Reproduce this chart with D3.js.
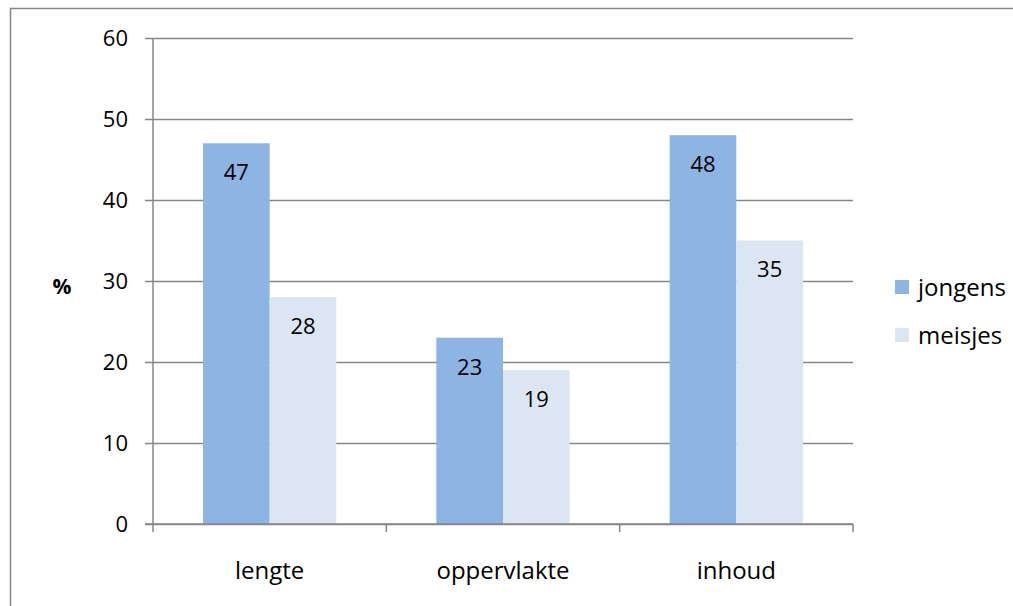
<!DOCTYPE html>
<html>
<head>
<meta charset="utf-8">
<script src="https://cdn.jsdelivr.net/npm/d3@7/dist/d3.min.js"></script>
<style>
  html, body { margin: 0; padding: 0; background: #fff; }
  svg { display: block; font-family: "Open Sans", Lato, sans-serif; }
</style>
</head>
<body>
<svg id="chart" width="1013" height="606"></svg>
<script>
// Percentages per measurement type, split by group
const categories = ["lengte", "oppervlakte", "inhoud"];
const seriesNames = ["jongens", "meisjes"];
const jongens = [47, 23, 48];
const meisjes = [28, 19, 35];
const yTicks = [0, 10, 20, 30, 40, 50, 60];

const colors = { jongens: "#8EB4E3", meisjes: "#DCE6F2" };
const gray = "#868686";
const fsNum = 22;
const fsWord = 24;

const svg = d3.select("#chart");

// Outer chart frame
svg.append("rect")
  .attr("x", 10.5).attr("y", 8.5)
  .attr("width", 1020).attr("height", 620)
  .attr("fill", "none").attr("stroke", gray).attr("stroke-width", 1.5);

const plot = { left: 153, right: 853, top: 38, bottom: 524 };

const x = d3.scaleBand().domain(categories).range([plot.left, plot.right]).paddingInner(0).paddingOuter(0);
const bw = x.bandwidth();
// Two bars per category with a 150% gap width
const xs = d3.scaleBand().domain(seriesNames).range([bw * 0.75 / 3.5, bw - bw * 0.75 / 3.5]);
const y = d3.scaleLinear().domain([0, 60]).range([plot.bottom, plot.top]);

// Horizontal gridlines (extending left as tick marks)
const gy = svg.append("g").attr("transform", `translate(${plot.right},0)`);
gy.call(d3.axisLeft(y).tickValues(yTicks).tickSize(plot.right - plot.left + 8).tickFormat(""));
gy.select(".domain").remove();
gy.selectAll(".tick line").attr("stroke", gray).attr("stroke-width", 1.5);

// Y tick labels
svg.append("g").selectAll("text").data(yTicks).join("text")
  .attr("x", 128).attr("y", d => y(d))
  .attr("dy", "0.36em")
  .attr("text-anchor", "end")
  .attr("font-size", fsNum)
  .attr("fill", "#000")
  .text(d => d);

// Bars
const data = categories.map((c, i) => ({ cat: c, values: [
  { key: "jongens", v: jongens[i] },
  { key: "meisjes", v: meisjes[i] }
]}));

const groups = svg.append("g").selectAll("g").data(data).join("g")
  .attr("transform", d => `translate(${x(d.cat)},0)`);

groups.selectAll("rect").data(d => d.values).join("rect")
  .attr("x", d => xs(d.key))
  .attr("y", d => y(d.v))
  .attr("width", xs.bandwidth())
  .attr("height", d => y(0) - y(d.v))
  .attr("fill", d => colors[d.key]);

groups.selectAll("text").data(d => d.values).join("text")
  .attr("x", d => xs(d.key) + xs.bandwidth() / 2)
  .attr("y", d => y(d.v) + 29)
  .attr("dy", "0.36em")
  .attr("text-anchor", "middle")
  .attr("font-size", fsNum)
  .attr("fill", "#000")
  .text(d => d.v);

// Y axis line
svg.append("line")
  .attr("x1", plot.left).attr("x2", plot.left)
  .attr("y1", plot.top).attr("y2", plot.bottom)
  .attr("stroke", gray).attr("stroke-width", 1.5);

// X axis with category dividers
const gx = svg.append("g").attr("transform", `translate(0,${plot.bottom})`);
gx.append("line").attr("x1", plot.left - 8).attr("x2", plot.right)
  .attr("stroke", gray).attr("stroke-width", 1.5);
const dividers = categories.map(c => x(c)).concat([plot.right]);
gx.selectAll("line.div").data(dividers).join("line")
  .attr("class", "div")
  .attr("x1", d => d).attr("x2", d => d)
  .attr("y1", 0).attr("y2", 8)
  .attr("stroke", gray).attr("stroke-width", 1.5);
gx.selectAll("text").data(categories).join("text")
  .attr("x", d => x(d) + bw / 2)
  .attr("y", 46)
  .attr("dy", "0.36em")
  .attr("text-anchor", "middle")
  .attr("font-size", fsWord)
  .attr("fill", "#000")
  .text(d => d);

// Y axis title
svg.append("text")
  .attr("x", 62).attr("y", 286)
  .attr("dy", "0.36em")
  .attr("text-anchor", "middle")
  .attr("font-size", 21)
  .attr("font-weight", "bold")
  .attr("fill", "#000")
  .text("%");

// Legend
const legend = svg.append("g").attr("transform", "translate(895,280)");
const li = legend.selectAll("g").data(seriesNames).join("g")
  .attr("transform", (d, i) => `translate(0,${i * 48})`);
li.append("rect").attr("width", 14).attr("height", 14).attr("fill", d => colors[d]);
li.append("text").attr("x", 23).attr("y", 7).attr("dy", "0.36em")
  .attr("font-size", fsWord).attr("fill", "#000").text(d => d);
</script>
</body>
</html>
